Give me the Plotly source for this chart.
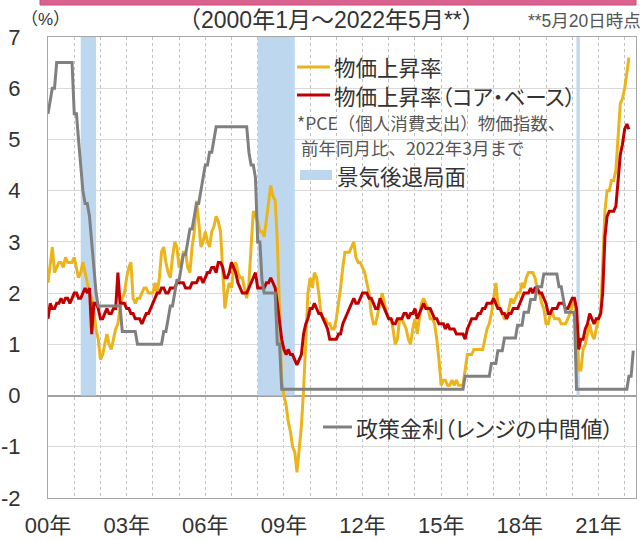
import plotly.graph_objects as go
import pandas as pd

# ---------------- data (monthly) ----------------
pce_2000 = [2.2, 2.6, 2.9, 2.4, 2.5, 2.6, 2.6, 2.5, 2.7, 2.6, 2.6, 2.6]
pce_2001 = [2.7, 2.5, 2.3, 2.4, 2.6, 2.4, 2.2, 2.0, 1.9, 1.6, 1.3, 1.1]
pce_2002 = [0.7, 0.8, 1.0, 1.2, 1.0, 0.9, 1.1, 1.3, 1.4, 1.7, 1.9, 2.0]
pce_2003 = [2.3, 2.5, 2.6, 1.9, 1.8, 1.9, 1.9, 2.0, 2.1, 2.1, 2.0, 2.0]
pce_2004 = [2.0, 2.2, 2.0, 2.3, 2.8, 2.9, 2.6, 2.4, 2.3, 2.7, 3.0, 2.9]
pce_2005 = [2.5, 2.6, 2.8, 2.8, 2.5, 2.4, 2.9, 3.2, 3.8, 3.4, 2.9, 3.0]
pce_2006 = [3.2, 3.0, 2.9, 3.2, 3.3, 3.5, 3.4, 3.2, 2.3, 1.7, 2.0, 2.2]
pce_2007 = [2.1, 2.5, 2.6, 2.4, 2.3, 2.3, 2.1, 1.9, 2.2, 2.8, 3.6, 3.5]
pce_2008 = [3.4, 3.2, 3.2, 3.1, 3.4, 3.7, 4.1, 3.9, 3.8, 3.0, 1.5, 0.3]
pce_2009 = [0.0, -0.2, -0.5, -0.7, -1.0, -1.1, -1.5, -1.1, -0.6, 0.1, 1.1, 2.0]
pce_2010 = [2.3, 2.1, 2.4, 2.3, 2.0, 1.6, 1.5, 1.5, 1.4, 1.4, 1.3, 1.3]
pce_2011 = [1.5, 1.8, 2.1, 2.5, 2.8, 2.8, 2.8, 2.9, 3.0, 2.7, 2.6, 2.6]
pce_2012 = [2.5, 2.4, 2.2, 2.0, 1.6, 1.4, 1.4, 1.6, 1.8, 2.0, 1.8, 1.6]
pce_2013 = [1.5, 1.5, 1.3, 1.0, 1.1, 1.5, 1.5, 1.4, 1.3, 1.1, 1.0, 1.3]
pce_2014 = [1.5, 1.2, 1.5, 1.8, 1.9, 1.8, 1.7, 1.5, 1.5, 1.4, 1.1, 0.7]
pce_2015 = [0.2, 0.3, 0.3, 0.2, 0.2, 0.3, 0.2, 0.3, 0.2, 0.2, 0.2, 0.5]
pce_2016 = [0.8, 0.8, 0.8, 0.9, 0.9, 0.9, 0.9, 0.9, 1.1, 1.3, 1.4, 1.6]
pce_2017 = [1.9, 2.2, 1.8, 1.7, 1.6, 1.5, 1.5, 1.7, 1.9, 1.8, 1.9, 2.0]
pce_2018 = [2.0, 2.2, 2.1, 2.3, 2.4, 2.4, 2.4, 2.3, 2.1, 2.0, 1.8, 1.7]
pce_2019 = [1.4, 1.4, 1.6, 1.6, 1.5, 1.5, 1.5, 1.4, 1.4, 1.4, 1.5, 1.6]
pce_2020 = [1.8, 1.9, 1.3, 0.5, 0.5, 0.9, 1.0, 1.2, 1.4, 1.2, 1.1, 1.3]
pce_2021 = [1.5, 1.6, 2.5, 3.6, 4.0, 4.0, 4.2, 4.2, 4.4, 5.1, 5.7, 5.8]
pce_2022 = [6.0, 6.3, 6.6]

core_2000 = [1.5, 1.8, 1.7, 1.7, 1.8, 1.8, 1.9, 1.8, 1.9, 1.9, 1.8, 1.9]
core_2001 = [2.0, 2.0, 1.9, 1.9, 2.0, 2.1, 2.0, 2.1, 1.2, 1.8, 1.8, 1.7]
core_2002 = [1.5, 1.5, 1.6, 1.7, 1.6, 1.6, 1.7, 1.7, 2.4, 1.8, 1.8, 1.8]
core_2003 = [1.7, 1.7, 1.6, 1.6, 1.5, 1.5, 1.5, 1.4, 1.5, 1.6, 1.6, 1.7]
core_2004 = [1.8, 1.9, 2.0, 2.0, 2.1, 2.1, 2.0, 2.0, 2.1, 2.1, 2.1, 2.2]
core_2005 = [2.2, 2.2, 2.2, 2.1, 2.1, 2.1, 2.2, 2.2, 2.2, 2.3, 2.3, 2.2]
core_2006 = [2.3, 2.4, 2.4, 2.5, 2.5, 2.4, 2.6, 2.6, 2.5, 2.3, 2.3, 2.4]
core_2007 = [2.6, 2.5, 2.4, 2.2, 2.1, 2.0, 2.0, 2.0, 2.1, 2.2, 2.3, 2.4]
core_2008 = [2.1, 2.1, 2.1, 2.1, 2.2, 2.2, 2.3, 2.2, 2.1, 1.8, 1.4, 1.1]
core_2009 = [0.9, 0.8, 0.9, 0.8, 0.8, 0.7, 0.6, 0.7, 0.8, 1.2, 1.4, 1.5]
core_2010 = [1.7, 1.7, 1.8, 1.7, 1.6, 1.6, 1.5, 1.4, 1.3, 1.1, 1.1, 1.1]
core_2011 = [1.1, 1.2, 1.2, 1.4, 1.5, 1.6, 1.7, 1.8, 1.9, 1.8, 1.8, 1.9]
core_2012 = [2.0, 2.0, 2.0, 1.9, 1.9, 1.8, 1.7, 1.7, 1.9, 1.8, 1.7, 1.6]
core_2013 = [1.5, 1.5, 1.4, 1.4, 1.5, 1.5, 1.5, 1.6, 1.6, 1.5, 1.6, 1.6]
core_2014 = [1.7, 1.5, 1.6, 1.7, 1.8, 1.7, 1.7, 1.7, 1.6, 1.5, 1.5, 1.4]
core_2015 = [1.4, 1.4, 1.3, 1.4, 1.3, 1.3, 1.3, 1.2, 1.2, 1.2, 1.2, 1.1]
core_2016 = [1.3, 1.4, 1.5, 1.5, 1.5, 1.6, 1.6, 1.7, 1.7, 1.8, 1.8, 1.8]
core_2017 = [1.9, 1.8, 1.7, 1.7, 1.6, 1.6, 1.5, 1.6, 1.6, 1.7, 1.7, 1.7]
core_2018 = [1.8, 1.9, 2.0, 2.0, 2.0, 2.1, 2.0, 2.1, 2.1, 2.0, 2.0, 1.9]
core_2019 = [1.8, 1.6, 1.6, 1.7, 1.7, 1.7, 1.8, 1.8, 1.8, 1.7, 1.7, 1.8]
core_2020 = [1.9, 1.9, 1.7, 0.9, 1.1, 1.1, 1.3, 1.4, 1.6, 1.5, 1.4, 1.5]
core_2021 = [1.5, 1.6, 2.0, 3.1, 3.5, 3.6, 3.6, 3.6, 3.7, 4.2, 4.7, 4.9]
core_2022 = [5.2, 5.3, 5.2]

ff_2000 = [5.5, 5.75, 6.0, 6.0, 6.5, 6.5, 6.5, 6.5, 6.5, 6.5, 6.5, 6.5]
ff_2001 = [5.5, 5.5, 5.0, 4.5, 4.0, 3.75, 3.75, 3.5, 3.0, 2.5, 2.0, 1.75]
ff_2002 = [1.75, 1.75, 1.75, 1.75, 1.75, 1.75, 1.75, 1.75, 1.75, 1.75, 1.25, 1.25]
ff_2003 = [1.25, 1.25, 1.25, 1.25, 1.25, 1.0, 1.0, 1.0, 1.0, 1.0, 1.0, 1.0]
ff_2004 = [1.0, 1.0, 1.0, 1.0, 1.0, 1.25, 1.25, 1.5, 1.75, 1.75, 2.0, 2.25]
ff_2005 = [2.25, 2.5, 2.75, 2.75, 3.0, 3.25, 3.25, 3.5, 3.75, 3.75, 4.0, 4.25]
ff_2006 = [4.5, 4.5, 4.75, 4.75, 5.0, 5.25, 5.25, 5.25, 5.25, 5.25, 5.25, 5.25]
ff_2007 = [5.25, 5.25, 5.25, 5.25, 5.25, 5.25, 5.25, 5.25, 4.75, 4.5, 4.5, 4.25]
ff_2008 = [3.0, 3.0, 2.25, 2.0, 2.0, 2.0, 2.0, 2.0, 2.0, 1.0, 1.0, 0.125]
ff_2009 = [0.125, 0.125, 0.125, 0.125, 0.125, 0.125, 0.125, 0.125, 0.125, 0.125, 0.125, 0.125]
ff_2010 = [0.125, 0.125, 0.125, 0.125, 0.125, 0.125, 0.125, 0.125, 0.125, 0.125, 0.125, 0.125]
ff_2011 = [0.125, 0.125, 0.125, 0.125, 0.125, 0.125, 0.125, 0.125, 0.125, 0.125, 0.125, 0.125]
ff_2012 = [0.125, 0.125, 0.125, 0.125, 0.125, 0.125, 0.125, 0.125, 0.125, 0.125, 0.125, 0.125]
ff_2013 = [0.125, 0.125, 0.125, 0.125, 0.125, 0.125, 0.125, 0.125, 0.125, 0.125, 0.125, 0.125]
ff_2014 = [0.125, 0.125, 0.125, 0.125, 0.125, 0.125, 0.125, 0.125, 0.125, 0.125, 0.125, 0.125]
ff_2015 = [0.125, 0.125, 0.125, 0.125, 0.125, 0.125, 0.125, 0.125, 0.125, 0.125, 0.125, 0.375]
ff_2016 = [0.375, 0.375, 0.375, 0.375, 0.375, 0.375, 0.375, 0.375, 0.375, 0.375, 0.375, 0.625]
ff_2017 = [0.625, 0.625, 0.875, 0.875, 0.875, 1.125, 1.125, 1.125, 1.125, 1.125, 1.125, 1.375]
ff_2018 = [1.375, 1.375, 1.625, 1.625, 1.625, 1.875, 1.875, 1.875, 2.125, 2.125, 2.125, 2.375]
ff_2019 = [2.375, 2.375, 2.375, 2.375, 2.375, 2.375, 2.125, 2.125, 1.875, 1.625, 1.625, 1.625]
ff_2020 = [1.625, 1.625, 0.125, 0.125, 0.125, 0.125, 0.125, 0.125, 0.125, 0.125, 0.125, 0.125]
ff_2021 = [0.125, 0.125, 0.125, 0.125, 0.125, 0.125, 0.125, 0.125, 0.125, 0.125, 0.125, 0.125]
ff_2022 = [0.125, 0.125, 0.375, 0.375, 0.875]

recession_starts = ["2001-04-01", "2008-01-01", "2020-03-01"]
recession_ends = ["2001-11-01", "2009-06-01", "2020-04-15"]

tick_years = list(range(2000, 2023))
tick_labels = ["00年", "", "", "03年", "", "", "06年", "", "", "09年", "", "",
               "12年", "", "", "15年", "", "", "18年", "", "", "21年", ""]
y_ticks = [-2, -1, 0, 1, 2, 3, 4, 5, 6, 7]
y_tick_labels = ["-2", "-1", "0", "1", "2", "3", "4", "5", "6", "7"]

name_pce = "物価上昇率"
name_core = "物価上昇率（コア・ベース）"
name_ff = "政策金利（レンジの中間値）"
name_rec = "景気後退局面"
note_1 = "*PCE（個人消費支出）物価指数、"
note_2 = " 前年同月比、2022年3月まで"
title_text = "（2000年1月～2022年5月**）"
asof_text = "**5月20日時点"
unit_text = "（%）"

# ---------------- assemble ----------------
pce = sum([pce_2000, pce_2001, pce_2002, pce_2003, pce_2004, pce_2005, pce_2006,
           pce_2007, pce_2008, pce_2009, pce_2010, pce_2011, pce_2012, pce_2013,
           pce_2014, pce_2015, pce_2016, pce_2017, pce_2018, pce_2019, pce_2020,
           pce_2021, pce_2022], [])
core = sum([core_2000, core_2001, core_2002, core_2003, core_2004, core_2005, core_2006,
            core_2007, core_2008, core_2009, core_2010, core_2011, core_2012, core_2013,
            core_2014, core_2015, core_2016, core_2017, core_2018, core_2019, core_2020,
            core_2021, core_2022], [])
ff = sum([ff_2000, ff_2001, ff_2002, ff_2003, ff_2004, ff_2005, ff_2006, ff_2007,
          ff_2008, ff_2009, ff_2010, ff_2011, ff_2012, ff_2013, ff_2014, ff_2015,
          ff_2016, ff_2017, ff_2018, ff_2019, ff_2020, ff_2021, ff_2022], [])

d_pce = pd.date_range("2000-01-01", periods=len(pce), freq="MS")
d_ff = pd.date_range("2000-01-01", periods=len(ff), freq="MS")

YELLOW = "#EBB41B"
RED = "#C00000"
GRAY = "#808080"
BLUE = "#BDD7EE"
TXT = "#333333"
FONT = "Liberation Sans, Arial, Noto Sans CJK JP, sans-serif"
JFONT = "Noto Sans CJK JP, sans-serif"

W, H = 643, 540
L, R, T, B = 48, 636, 37, 498


def X(p):
    return (p - L) / (R - L)


def Y(p):
    return (B - p) / (B - T)


def palt(s):
    return "<span style=\"font-feature-settings:'palt'\">" + s + "</span>"


fig = go.Figure()
fig.add_trace(go.Scatter(x=d_pce, y=pce, mode="lines", name=name_pce,
                         line=dict(color=YELLOW, width=3), showlegend=False))
fig.add_trace(go.Scatter(x=d_pce, y=core, mode="lines", name=name_core,
                         line=dict(color=RED, width=3), showlegend=False))
fig.add_trace(go.Scatter(x=d_ff, y=ff, mode="lines", name=name_ff,
                         line=dict(color=GRAY, width=3), showlegend=False))

shapes = []
for s, e in zip(recession_starts, recession_ends):
    shapes.append(dict(type="rect", xref="x", yref="y", x0=s, x1=e, y0=0, y1=7,
                       fillcolor=BLUE, line=dict(width=0), layer="between"))
# white legend panels
shapes.append(dict(type="rect", xref="paper", yref="paper", x0=X(295), x1=X(576),
                   y0=Y(186), y1=Y(46), fillcolor="white", line=dict(width=0),
                   layer="between"))
shapes.append(dict(type="rect", xref="paper", yref="paper", x0=X(318), x1=X(616),
                   y0=Y(442), y1=Y(412), fillcolor="white", line=dict(width=0),
                   layer="between"))
# legend samples
shapes.append(dict(type="line", xref="paper", yref="paper", x0=X(297), x1=X(330),
                   y0=Y(67), y1=Y(67), line=dict(color=YELLOW, width=3), layer="above"))
shapes.append(dict(type="line", xref="paper", yref="paper", x0=X(297), x1=X(330),
                   y0=Y(95), y1=Y(95), line=dict(color=RED, width=3), layer="above"))
shapes.append(dict(type="rect", xref="paper", yref="paper", x0=X(300), x1=X(332),
                   y0=Y(180), y1=Y(170), fillcolor=BLUE, line=dict(width=0), layer="above"))
shapes.append(dict(type="line", xref="paper", yref="paper", x0=X(323), x1=X(352),
                   y0=Y(427), y1=Y(427), line=dict(color=GRAY, width=3), layer="above"))
# top pink banner
shapes.append(dict(type="rect", xref="paper", yref="paper", x0=X(40), x1=X(636),
                   y0=Y(5), y1=Y(-4), fillcolor="#D9628F", line=dict(color="#C84A7C", width=1),
                   layer="above"))

annotations = []


def add_text(text, x, y, size, color=TXT, xanchor="left", font=JFONT):
    annotations.append(dict(text=text, x=X(x), y=Y(y), xref="paper", yref="paper",
                            xanchor=xanchor, yanchor="middle", showarrow=False,
                            borderpad=0,
                            font=dict(size=size, color=color, family=font)))


add_text(palt(name_pce), 333, 67, 21.5)
add_text(palt(name_core), 333, 95, 21.5)
add_text(note_1, 296, 122, 17.5, color="#555555")
add_text(note_2, 296, 147, 17.5, color="#555555")
add_text(palt(name_rec), 336, 175, 21.5)
add_text(palt(name_ff), 355, 427, 22)
add_text(title_text, 331, 20, 23, xanchor="center", font=FONT)
add_text(asof_text, 642, 21, 17.5, color="#555555", xanchor="right", font=FONT)
add_text(unit_text, 45, 20, 17, xanchor="center", font=FONT)

fig.update_layout(
    width=W, height=H,
    margin=dict(l=L, r=W - R, t=T, b=H - B, autoexpand=False),
    paper_bgcolor="white", plot_bgcolor="white",
    font=dict(family=FONT, color=TXT),
    shapes=shapes, annotations=annotations,
    showlegend=False,
)
fig.update_xaxes(
    type="date", range=["2000-01-01", "2022-06-08"],
    tickvals=[f"{y}-01-01" for y in tick_years], ticktext=tick_labels,
    tickfont=dict(size=22, color=TXT, family=FONT),
    showgrid=True, gridcolor="#C0C0C0", griddash="dot", gridwidth=1,
    ticks="", ticklabelstandoff=8, automargin=False,
    showline=True, mirror=True, linecolor="#A6A6A6", linewidth=1,
    zeroline=False,
)
fig.update_yaxes(
    range=[-2, 7], tickvals=y_ticks, ticktext=y_tick_labels,
    tickfont=dict(size=22, color=TXT, family=FONT),
    showgrid=True, gridcolor="#D9D9D9", gridwidth=1,
    zeroline=True, zerolinecolor="#A0A0A0", zerolinewidth=1.5,
    ticks="", ticklabelstandoff=22, automargin=False,
    showline=True, mirror=True, linecolor="#A6A6A6", linewidth=1,
)

fig.write_html("out.html", config={"displayModeBar": False},
               post_script="document.body.style.margin='0px';document.body.style.overflow='hidden';")
